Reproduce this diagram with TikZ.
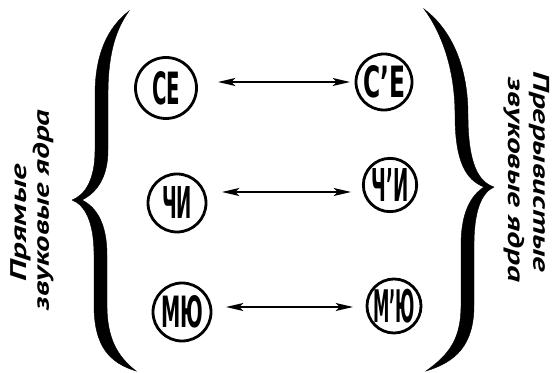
\documentclass[tikz,border=0pt]{standalone}
\usepackage{fontspec}
\setmainfont{Liberation Sans}
\IfFontExistsTF{PT Sans Bold Italic}
  {\newfontfamily\labfont{PT Sans Bold Italic}}
  {\newfontfamily\labfont{PT Sans}[FakeSlant=0.2,FakeBold=1.5]}
\newfontfamily\circfont{DejaVu Sans}
\usetikzlibrary{arrows.meta}
\newcommand\cirtxt[3]{\resizebox{#1pt}{#2pt}{\circfont\bfseries #3}}
\newcommand\labtxt[2]{\resizebox{#1pt}{\height}{#2}}
\begin{document}
\begin{tikzpicture}[x=0.75pt,y=-0.75pt,
  syl/.style={circle,draw,line width=2.1pt,inner sep=0pt},
  dbl/.style={line width=1.3pt,{Stealth[length=13pt,width=6pt,inset=3pt]}-{Stealth[length=13pt,width=6pt,inset=3pt]}},
  bracefill/.style={fill=black,draw=black,line width=0.3pt},
  lab/.style={font=\labfont\fontsize{17}{17}\selectfont, inner sep=0pt, anchor=center}]
\useasboundingbox (0,0) rectangle (559,373);

% syllable circles
\node[syl, minimum size=45.75pt] (CE) at (166,88) {\cirtxt{21}{24.75}{СЕ}};
\node[syl, minimum size=43.5pt] (CHI) at (177,203) {\cirtxt{22.5}{24}{ЧИ}};
\node[syl, minimum size=43.5pt] (MYU) at (182,312) {\cirtxt{31.5}{24}{МЮ}};
\node[syl, minimum size=42pt] (CEp) at (384,82) {\cirtxt{31.5}{24}{С’Е}};
\node[syl, minimum size=40pt] (CHIp) at (390,185) {\cirtxt{27.75}{24.75}{Ч’И}};
\node[syl, minimum size=40pt] (MYUp) at (394,306) {\cirtxt{31.5}{25}{М’Ю}};

% arrow ends
\coordinate (A1w) at (218,82);  \coordinate (A1e) at (350,82);
\coordinate (A2w) at (222,192); \coordinate (A2e) at (351,192);
\coordinate (A3w) at (226,307); \coordinate (A3e) at (353,307);
\draw[dbl] (A1w) -- (A1e);
\draw[dbl] (A2w) -- (A2e);
\draw[dbl] (A3w) -- (A3e);

% left brace
\path[bracefill] (129,11) .. controls (107,28) and (95,55) .. (95,95)
  -- (95,150) .. controls (95,180) and (85,195) .. (72,200)
  .. controls (85,205) and (94,222) .. (94,255)
  -- (94,305) .. controls (94,347) and (110,363) .. (136,371)
  .. controls (117,356) and (107,338) .. (107,305)
  -- (107,255) .. controls (107,226) and (98,208) .. (82,200)
  .. controls (98,192) and (108,176) .. (108,150)
  -- (108,95) .. controls (108,58) and (114,32) .. (129,11) -- cycle;

% right brace
\path[bracefill] (424,9) .. controls (447,26) and (468,60) .. (468,115)
  .. controls (468,165) and (479,182) .. (494,187)
  .. controls (481,193) and (474,212) .. (474,245)
  -- (474,305) .. controls (474,345) and (456,362) .. (426,371)
  .. controls (450,354) and (461,338) .. (461,305)
  -- (461,245) .. controls (461,214) and (470,196) .. (484,187)
  .. controls (466,180) and (455,162) .. (455,115)
  .. controls (455,68) and (441,32) .. (424,9) -- cycle;

% labels
\node[lab, rotate=90] (L1) at (20.5,223) {\labtxt{87.75}{Прямые}};
\node[lab, rotate=90] (L2) at (43,210) {\labtxt{150}{звуковые ядра}};
\node[lab, rotate=-90] (R1) at (539,172) {\labtxt{150}{Прерывистые}};
\node[lab, rotate=-90] (R2) at (514,180) {\labtxt{153}{звуковые ядра}};
\end{tikzpicture}
\end{document}
